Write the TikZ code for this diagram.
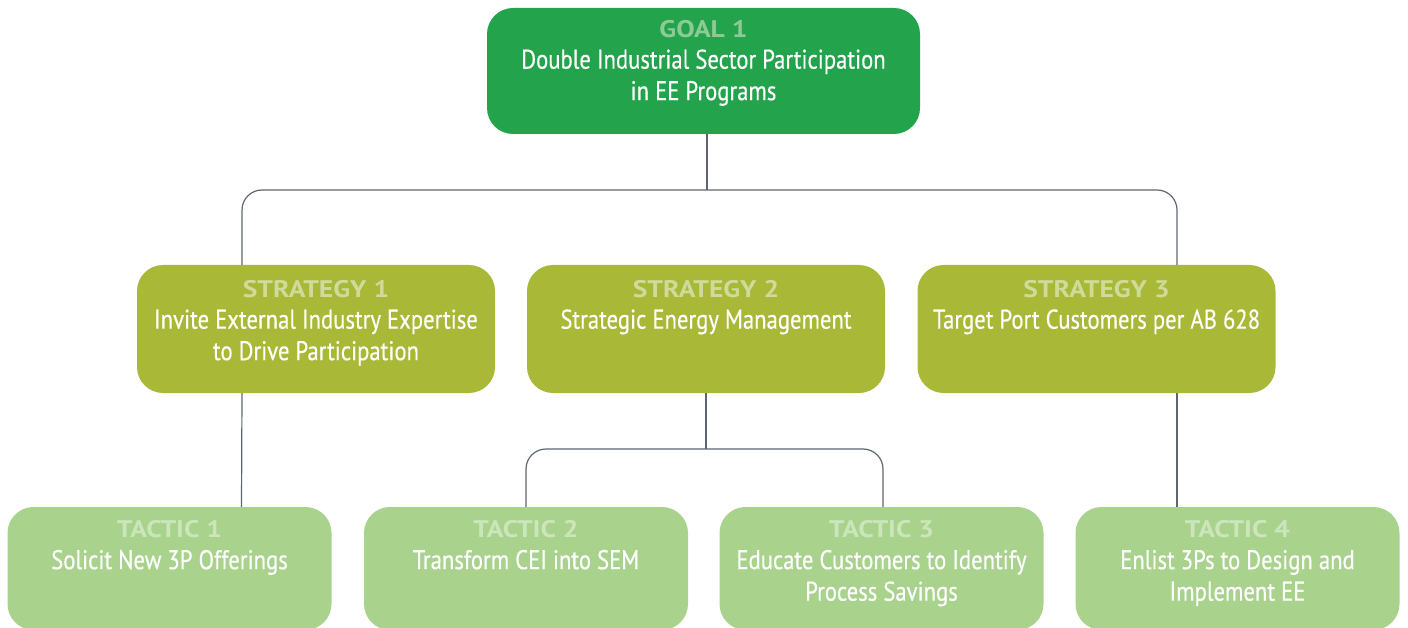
\documentclass[tikz,border=0pt]{standalone}
\usepackage{fontspec}
\setmainfont{PT Sans}[FakeStretch=0.84, FakeBold=0.4]
\newfontfamily\lblfont{PT Sans}[FakeStretch=1.15]
\definecolor{goalfill}{HTML}{23A34B}
\definecolor{goallbl}{HTML}{8DCB96}
\definecolor{stratfill}{HTML}{A9B937}
\definecolor{stratlbl}{HTML}{D0DA9A}
\definecolor{tacfill}{HTML}{A9D38D}
\definecolor{taclbl}{HTML}{CCE6BB}
\definecolor{connc}{HTML}{5F6570}
\tikzset{
  box/.style={draw=none, inner sep=0pt, rectangle, rounded corners=26pt},
  goalbox/.style={box, fill=goalfill, minimum width=433pt, minimum height=126pt},
  stratbox/.style={box, fill=stratfill, minimum width=358pt, minimum height=128pt},
  tacbox/.style={box, fill=tacfill, minimum width=324pt, minimum height=123pt},
  txt/.style={anchor=north, inner sep=0pt, align=center, text=white,
    font=\fontsize{27pt}{31.5pt}\selectfont},
  conn/.style={draw=connc, line width=1.2pt, rounded corners=20pt},
}
\newcommand{\lbl}[2]{{\color{#1}\lblfont\bfseries\fontsize{24pt}{31.5pt}\selectfont #2}}
\begin{document}
\begin{tikzpicture}[x=1pt,y=-1pt]
\useasboundingbox (0,0) rectangle (1408,628);
% boxes
\node[goalbox] (goal) at (703.5,71) {};
\node[stratbox] (s1) at (316,329) {};
\node[stratbox] (s2) at (706,329) {};
\node[stratbox] (s3) at (1096.5,329) {};
\node[tacbox] (t1) at (169.5,568.5) {};
\node[tacbox] (t2) at (526,568.5) {};
\node[tacbox] (t3) at (881.5,568.5) {};
\node[tacbox] (t4) at (1237.5,568.5) {};
% texts
\node[txt, yshift=-12pt] (goal-t) at (goal.north) {\lbl{goallbl}{GOAL 1}\\Double Industrial Sector Participation\\in EE Programs};
\node[txt, yshift=-15pt] (s1-t) at (s1.north) {\lbl{stratlbl}{STRATEGY 1}\\Invite External Industry Expertise\\to Drive Participation};
\node[txt, yshift=-15pt] (s2-t) at (s2.north) {\lbl{stratlbl}{STRATEGY 2}\\Strategic Energy Management};
\node[txt, yshift=-15pt] (s3-t) at (s3.north) {\lbl{stratlbl}{STRATEGY 3}\\Target Port Customers per AB 628};
\node[txt, yshift=-13.5pt] (t1-t) at (t1.north) {\lbl{taclbl}{TACTIC 1}\\Solicit New 3P Offerings};
\node[txt, yshift=-13.5pt] (t2-t) at (t2.north) {\lbl{taclbl}{TACTIC 2}\\Transform CEI into SEM};
\node[txt, yshift=-13.5pt] (t3-t) at (t3.north) {\lbl{taclbl}{TACTIC 3}\\Educate Customers to Identify\\Process Savings};
\node[txt, yshift=-13.5pt] (t4-t) at (t4.north) {\lbl{taclbl}{TACTIC 4}\\Enlist 3Ps to Design and\\Implement EE};
% connectors
\coordinate (bar1) at (707,190);
\coordinate (bar2) at (706,449);
\draw[conn] ([xshift=3.5pt]goal.south) -- (bar1);
\draw[conn] ([xshift=-74pt]s1.north) |- (bar1) -| ([xshift=80.5pt]s3.north);
\draw[conn] ([xshift=-74pt]s1.south) -- ([xshift=72pt]t1.north);
\draw[conn] (s2.south) -- (bar2);
\draw[conn] (t2.north) |- (bar2) -| ([xshift=1.5pt]t3.north);
\draw[conn] ([xshift=80.5pt]s3.south) -- ([xshift=-60.5pt]t4.north);
\end{tikzpicture}
\end{document}
